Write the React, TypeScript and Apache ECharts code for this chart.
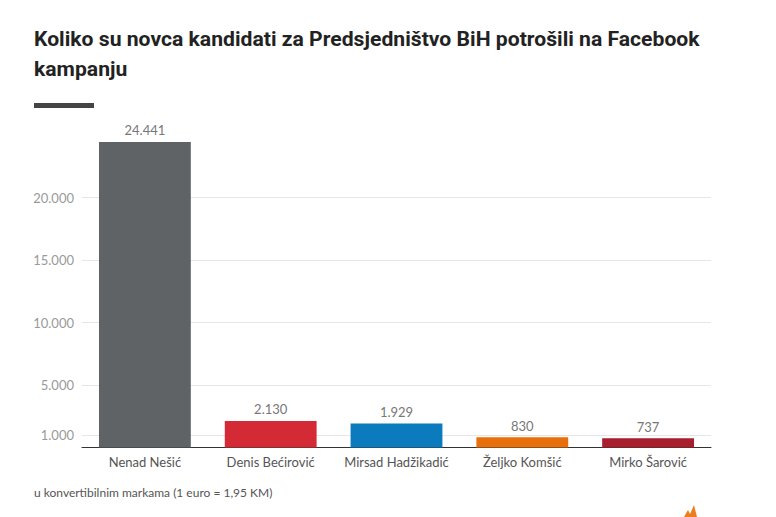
import React, { useEffect, useRef } from "react";
import * as echarts from "echarts";

const categories = ["Nenad Nešić", "Denis Bećirović", "Mirsad Hadžikadić", "Željko Komšić", "Mirko Šarović"];
const values = [24441, 2130, 1929, 830, 737];
const barColors = ["#5f6366", "#d42a35", "#0b7bbd", "#e8700c", "#a81e2d"];
const yTicks = [1000, 5000, 10000, 15000, 20000];
const titleLines = ["Koliko su novca kandidati za Predsjedništvo BiH potrošili na Facebook", "kampanju"];
const footnote = "u konvertibilnim markama (1 euro = 1,95 KM)";

const fmt = (v: number) => String(v).replace(/\B(?=(\d{3})+(?!\d))/g, ".");

export default function App() {
  const ref = useRef<HTMLDivElement>(null);
  useEffect(() => {
    document.body.style.margin = "0";
    const chart = echarts.init(ref.current!, null, { renderer: "svg" });
    const labelFont = "Lato, 'Open Sans', sans-serif";
    const titleFont = "bold 20px Roboto, 'Open Sans', sans-serif";
    let scale = 0.85;
    try {
      const ctx = document.createElement("canvas").getContext("2d")!;
      ctx.font = titleFont;
      const w = ctx.measureText(titleLines[0]).width;
      if (w > 0) scale = 666 / w;
    } catch (e) {}
    chart.setOption({
      animation: false,
      backgroundColor: "#ffffff",
      grid: { left: 82, right: 65, top: 135, bottom: 69.5, containLabel: false },
      xAxis: {
        type: "category",
        data: categories,
        axisLine: { show: true, lineStyle: { color: "#333333", width: 1 } },
        axisTick: { show: false },
        axisLabel: { color: "#555555", fontSize: 13, fontFamily: labelFont, margin: 8, interval: 0 },
      },
      yAxis: {
        type: "value",
        min: 0,
        max: 25000,
        axisLine: { show: false },
        axisTick: { show: false, customValues: yTicks },
        axisLabel: {
          customValues: yTicks,
          color: "#9a9a9a",
          fontSize: 13,
          fontFamily: labelFont,
          margin: 8,
          formatter: (v: number) => fmt(v),
        },
        splitLine: { show: true, lineStyle: { color: "#e6e6e6", width: 1 } },
      },
      series: [
        {
          type: "bar",
          barWidth: "73%",
          data: values.map((v, i) => ({ value: v, itemStyle: { color: barColors[i] } })),
          label: {
            show: true,
            position: "top",
            distance: 5,
            color: "#777777",
            fontSize: 13,
            fontFamily: labelFont,
            formatter: (p: any) => fmt(p.value),
          },
        },
      ],
      graphic: [
        {
          type: "text",
          x: 34,
          y: 29,
          scaleX: scale,
          style: { text: titleLines[0], font: titleFont, fill: "#222222", verticalAlign: "top" },
        },
        {
          type: "text",
          x: 34,
          y: 59,
          scaleX: scale,
          style: { text: titleLines[1], font: titleFont, fill: "#222222", verticalAlign: "top" },
        },
        {
          type: "rect",
          shape: { x: 34, y: 103, width: 60, height: 5 },
          style: { fill: "#444444" },
        },
        {
          type: "text",
          left: 34,
          top: 486,
          style: { text: footnote, font: "12px " + labelFont, fill: "#555555" },
        },
        {
          type: "polygon",
          shape: { points: [[684, 517], [688, 510], [690, 514], [694, 505], [697, 517]] },
          style: { fill: "#ee7d1c" },
        },
      ],
    });
    return () => chart.dispose();
  }, []);
  return <div ref={ref} style={{ width: 776, height: 517 }} />;
}
